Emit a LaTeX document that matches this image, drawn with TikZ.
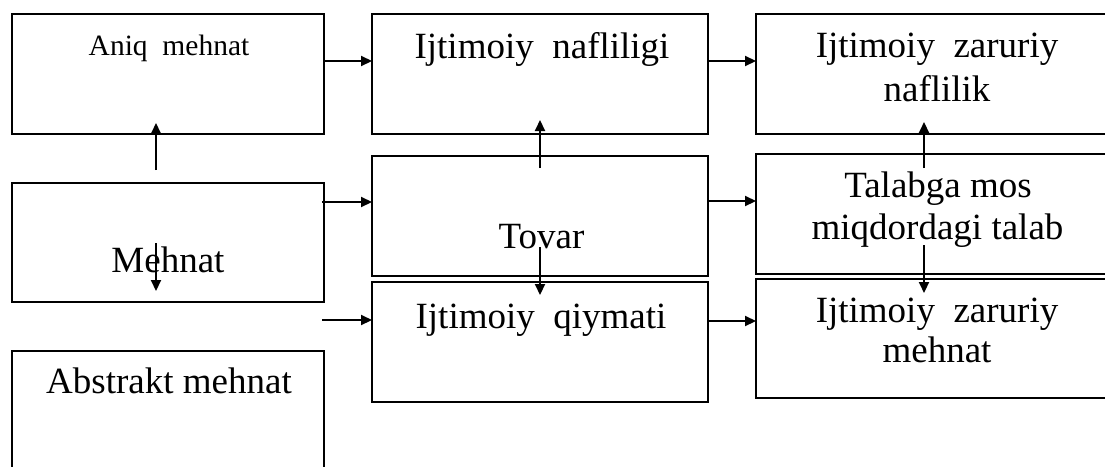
\documentclass[tikz,border=0pt]{standalone}
\usepackage{fontspec}
\setmainfont{Liberation Serif}
\usetikzlibrary{arrows.meta,calc}
\begin{document}
\begin{tikzpicture}[x=1pt,y=-1pt,
  box/.style={draw=black,line width=2.1pt,inner sep=0pt,outer sep=0pt,minimum width=#1},
  box/.default=312pt,
  txt/.style={anchor=base,inner sep=0pt,font=\fontsize{37}{44}\selectfont,align=center},
  arr/.style={line width=2.1pt,-{Triangle[length=11pt,width=10pt]}}]
\useasboundingbox (0,0) rectangle (1105,466);
\clip (0,0) rectangle (1105,466);
% boxes
\node[box=312pt,minimum height=120pt] (A) at (168,74) {};
\node[box=312pt,minimum height=119pt] (M) at (168,242.5) {};
\node[box=312pt,minimum height=140pt] (Ab) at (168,421) {};
\node[box=336pt,minimum height=120pt] (IN) at (540,74) {};
\node[box=336pt,minimum height=120pt] (T) at (540,216) {};
\node[box=336pt,minimum height=120pt] (IQ) at (540,342) {};
\node[box=359pt,minimum height=120pt] (IZN) at (935.5,74) {};
\node[box=359pt,minimum height=120pt] (TM) at (935.5,214) {};
\node[box=359pt,minimum height=119pt] (IZM) at (935.5,338.5) {};
% texts
\node[txt,font=\fontsize{29.5}{35}\selectfont] (tA) at (169,55) {Aniq\ \ mehnat};
\node[txt] (tM) at (168,272) {Mehnat};
\node[txt] (tAb) at (169,393) {Abstrakt mehnat};
\node[txt] (tIN) at (542,58) {Ijtimoiy\ \ nafliligi};
\node[txt] (tT) at (541.5,248) {Tovar};
\node[txt] (tIQ) at (541,328) {Ijtimoiy\ \ qiymati};
\node[txt] (tIZN1) at (937,57) {Ijtimoiy\ \ zaruriy};
\node[txt] (tIZN2) at (937,101) {naflilik};
\node[txt] (tTM1) at (938,197) {Talabga mos};
\node[txt] (tTM2) at (937.5,239) {miqdordagi talab};
\node[txt] (tIZM1) at (937,322) {Ijtimoiy\ \ zaruriy};
\node[txt] (tIZM2) at (937,362) {mehnat};
% connector end points
\coordinate (h1) at (324,61);
\coordinate (h2) at (708,61);
\coordinate (h3) at (322,202);
\coordinate (h4) at (708,201);
\coordinate (h5) at (322,320);
\coordinate (h6) at (708,321);
\coordinate (v1s) at (156,170); \coordinate (v1e) at (156,123);
\coordinate (v2s) at (156,243); \coordinate (v2e) at (156,291);
\coordinate (v3s) at (540,168); \coordinate (v3e) at (540,120);
\coordinate (v4s) at (540,247); \coordinate (v4e) at (540,295);
\coordinate (v5s) at (924,168); \coordinate (v5e) at (924,122);
\coordinate (v6s) at (924,245); \coordinate (v6e) at (924,293);
% connectors
\draw[arr] (h1) -- (h1 -| IN.west);
\draw[arr] (h2) -- (h2 -| IZN.west);
\draw[arr] (h3) -- (h3 -| T.west);
\draw[arr] (h4) -- (h4 -| TM.west);
\draw[arr] (h5) -- (h5 -| IQ.west);
\draw[arr] (h6) -- (h6 -| IZM.west);
\draw[arr] (v1s) -- (v1e);
\draw[arr] (v2s) -- (v2e);
\draw[arr] (v3s) -- (v3e);
\draw[arr] (v4s) -- (v4e);
\draw[arr] (v5s) -- (v5e);
\draw[arr] (v6s) -- (v6e);
\end{tikzpicture}
\end{document}
